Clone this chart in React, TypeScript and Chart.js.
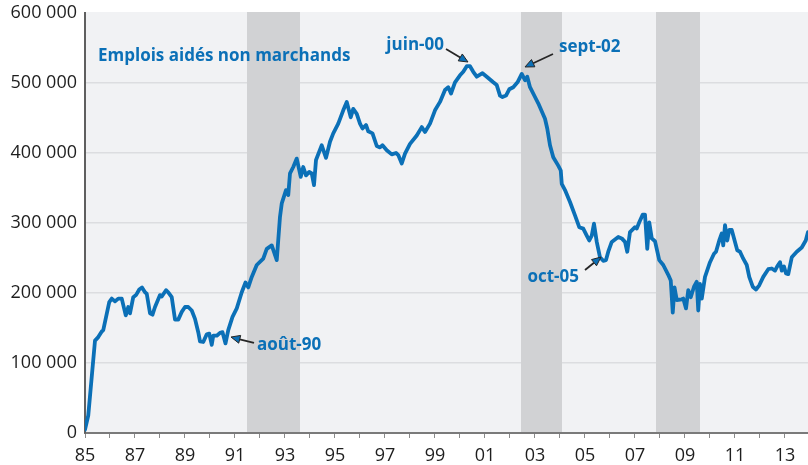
import React, { useEffect, useRef } from "react";
import { Chart, registerables } from "chart.js";

Chart.register(...registerables);

// ---- data ----
const years = [
  1985.0, 1985.13, 1985.4, 1985.53, 1985.67, 1985.73, 1985.97, 1986.07, 1986.2, 1986.33,
  1986.47, 1986.63, 1986.73, 1986.8, 1986.93, 1987.04, 1987.17, 1987.28, 1987.4, 1987.47,
  1987.6, 1987.7, 1987.8, 1988.0, 1988.07, 1988.24, 1988.33, 1988.47, 1988.6, 1988.73,
  1988.87, 1989.0, 1989.13, 1989.27, 1989.4, 1989.53, 1989.6, 1989.73, 1989.87, 1989.97,
  1990.07, 1990.13, 1990.27, 1990.4, 1990.5, 1990.62, 1990.73, 1990.9, 1991.07, 1991.27,
  1991.42, 1991.53, 1991.67, 1991.87, 1992.13, 1992.27, 1992.47, 1992.67, 1992.8, 1992.87,
  1993.04, 1993.13, 1993.2, 1993.33, 1993.47, 1993.63, 1993.73, 1993.84, 1993.97, 1994.07,
  1994.16, 1994.24, 1994.47, 1994.64, 1994.8, 1994.93, 1995.13, 1995.33, 1995.47, 1995.63,
  1995.73, 1995.87, 1996.0, 1996.1, 1996.24, 1996.33, 1996.5, 1996.67, 1996.8, 1996.9,
  1997.07, 1997.27, 1997.44, 1997.53, 1997.67, 1997.8, 1998.0, 1998.27, 1998.47, 1998.6,
  1998.8, 1999.0, 1999.2, 1999.4, 1999.53, 1999.64, 1999.8, 2000.0, 2000.13, 2000.27,
  2000.4, 2000.53, 2000.67, 2000.9, 2001.07, 2001.33, 2001.47, 2001.6, 2001.7, 2001.84,
  2001.97, 2002.13, 2002.3, 2002.47, 2002.6, 2002.69, 2002.8, 2003.0, 2003.13, 2003.4,
  2003.49, 2003.6, 2003.73, 2003.93, 2004.03, 2004.07, 2004.2, 2004.4, 2004.6, 2004.77,
  2004.93, 2005.07, 2005.17, 2005.27, 2005.36, 2005.47, 2005.6, 2005.73, 2005.84, 2005.93,
  2006.07, 2006.33, 2006.47, 2006.6, 2006.69, 2006.8, 2007.0, 2007.07, 2007.17, 2007.31,
  2007.4, 2007.49, 2007.57, 2007.67, 2007.8, 2007.97, 2008.13, 2008.33, 2008.43, 2008.51,
  2008.58, 2008.67, 2008.87, 2008.93, 2009.04, 2009.13, 2009.23, 2009.36, 2009.47, 2009.53,
  2009.6, 2009.67, 2009.8, 2010.0, 2010.16, 2010.24, 2010.37, 2010.47, 2010.53, 2010.6,
  2010.69, 2010.77, 2010.87, 2011.0, 2011.09, 2011.2, 2011.33, 2011.47, 2011.57, 2011.71,
  2011.84, 2011.97, 2012.13, 2012.33, 2012.47, 2012.6, 2012.69, 2012.8, 2012.87, 2012.96,
  2013.04, 2013.13, 2013.27, 2013.47, 2013.67, 2013.83, 2013.92,
];

const emploisAides = [
  5000, 25000, 132000, 137000, 145000, 147000, 187000, 192000, 188000, 192000,
  192000, 168000, 180000, 171000, 194000, 197000, 205000, 208000, 201000, 199000,
  171000, 169000, 180000, 197000, 195000, 204000, 201000, 194000, 162000, 162000,
  173000, 180000, 180000, 175000, 163000, 144000, 131000, 130000, 141000, 142000,
  126000, 139000, 139000, 143000, 144000, 128000, 147000, 166000, 178000, 201000,
  215000, 208000, 223000, 240000, 249000, 263000, 268000, 247000, 309000, 328000,
  347000, 340000, 371000, 380000, 392000, 366000, 380000, 368000, 373000, 371000,
  354000, 390000, 411000, 393000, 416000, 428000, 442000, 461000, 473000, 451000,
  463000, 456000, 442000, 435000, 440000, 431000, 428000, 410000, 408000, 411000,
  404000, 398000, 400000, 397000, 385000, 399000, 413000, 425000, 437000, 430000,
  442000, 461000, 473000, 490000, 494000, 485000, 501000, 511000, 516000, 524000,
  524000, 516000, 509000, 514000, 509000, 501000, 497000, 482000, 480000, 482000,
  491000, 494000, 501000, 513000, 504000, 509000, 494000, 480000, 471000, 449000,
  435000, 411000, 394000, 382000, 375000, 356000, 347000, 330000, 311000, 294000,
  292000, 282000, 275000, 282000, 299000, 273000, 251000, 246000, 247000, 259000,
  273000, 280000, 278000, 273000, 259000, 287000, 294000, 292000, 301000, 312000,
  312000, 263000, 301000, 278000, 274000, 247000, 240000, 226000, 218000, 172000,
  208000, 190000, 191000, 192000, 178000, 204000, 194000, 209000, 216000, 175000,
  213000, 192000, 223000, 244000, 256000, 259000, 275000, 285000, 268000, 297000,
  275000, 290000, 290000, 273000, 261000, 259000, 249000, 240000, 223000, 209000,
  205000, 211000, 223000, 234000, 235000, 232000, 238000, 244000, 232000, 238000,
  228000, 227000, 251000, 259000, 265000, 275000, 287000,
];

const xTickYears = [
  1985, 1986, 1987, 1988, 1989, 1990, 1991, 1992, 1993, 1994, 1995, 1996, 1997, 1998, 1999,
  2000, 2001, 2002, 2003, 2004, 2005, 2006, 2007, 2008, 2009, 2010, 2011, 2012, 2013,
];
const xTickLabels = [
  "85", "", "87", "", "89", "", "91", "", "93", "", "95", "", "97", "", "99",
  "", "01", "", "03", "", "05", "", "07", "", "09", "", "11", "", "13",
];
const yTickValues = [0, 100000, 200000, 300000, 400000, 500000, 600000];
const yTickLabels = ["0", "100 000", "200 000", "300 000", "400 000", "500 000", "600 000"];

const recessionStarts = [1991.48, 2002.44, 2007.84];
const recessionEnds = [1993.6, 2004.08, 2009.6];

const seriesTitle = "Emplois aidés non marchands";
const seriesTitleYear = 1985.52;
const seriesTitleValue = 538600;

const annotationTexts = ["juin-00", "sept-02", "août-90", "oct-05"];
const annotationTipYears = [2000.32, 2002.6, 1990.84, 2005.64];
const annotationTipValues = [530000, 522900, 137100, 251400];
const annotationTailYears = [1999.44, 2003.72, 1991.76, 2005.0];
const annotationTailValues = [548600, 541400, 128600, 232900];
const annotationTextYears = [1999.36, 2003.96, 1991.88, 2004.76];
const annotationTextValues = [554300, 551400, 125700, 222900];
const annotationAligns = ["right", "left", "left", "right"];

// ---- styles ----
const BLUE = "#0b70b7";
const FONT = "'Open Sans', 'Noto Sans', sans-serif";

const decorPlugin = {
  id: "decor",
  beforeDraw(chart: any) {
    const { ctx, chartArea: a } = chart;
    ctx.save();
    ctx.fillStyle = "#f1f2f4";
    ctx.fillRect(a.left, a.top - 1, a.right - a.left, a.bottom - a.top + 1);
    ctx.restore();
  },
  beforeDatasetsDraw(chart: any) {
    const { ctx, chartArea: a } = chart;
    const xs = chart.scales.x;
    ctx.save();
    ctx.fillStyle = "#d1d2d4";
    for (let i = 0; i < recessionStarts.length; i++) {
      const x0 = xs.getPixelForValue(recessionStarts[i]);
      const x1 = xs.getPixelForValue(recessionEnds[i]);
      ctx.fillRect(x0, a.top - 1, x1 - x0, a.bottom - a.top);
    }
    ctx.restore();
  },
  afterDatasetsDraw(chart: any) {
    const { ctx } = chart;
    const xs = chart.scales.x;
    const ys = chart.scales.y;
    ctx.save();
    ctx.font = `bold 17px ${FONT}`;
    ctx.fillStyle = BLUE;
    ctx.textBaseline = "middle";
    ctx.textAlign = "left";
    ctx.fillText(seriesTitle, xs.getPixelForValue(seriesTitleYear), ys.getPixelForValue(seriesTitleValue));

    for (let i = 0; i < annotationTexts.length; i++) {
      const tx = xs.getPixelForValue(annotationTipYears[i]);
      const ty = ys.getPixelForValue(annotationTipValues[i]);
      const sx = xs.getPixelForValue(annotationTailYears[i]);
      const sy = ys.getPixelForValue(annotationTailValues[i]);
      const ang = Math.atan2(ty - sy, tx - sx);
      const headLen = 9;
      const headW = 4;
      const bx = tx - Math.cos(ang) * headLen;
      const by = ty - Math.sin(ang) * headLen;
      ctx.strokeStyle = "#262626";
      ctx.lineWidth = 1.8;
      ctx.beginPath();
      ctx.moveTo(sx, sy);
      ctx.lineTo(bx, by);
      ctx.stroke();
      ctx.beginPath();
      ctx.moveTo(tx, ty);
      ctx.lineTo(bx + Math.sin(ang) * headW, by - Math.cos(ang) * headW);
      ctx.lineTo(bx - Math.sin(ang) * headW, by + Math.cos(ang) * headW);
      ctx.closePath();
      ctx.fillStyle = BLUE;
      ctx.fill();
      ctx.lineWidth = 1;
      ctx.stroke();

      ctx.fillStyle = BLUE;
      ctx.textAlign = annotationAligns[i] as CanvasTextAlign;
      ctx.fillText(
        annotationTexts[i],
        xs.getPixelForValue(annotationTextYears[i]),
        ys.getPixelForValue(annotationTextValues[i])
      );
    }
    ctx.restore();
  },
};

export default function App() {
  const canvasRef = useRef<HTMLCanvasElement | null>(null);

  useEffect(() => {
    const canvas = canvasRef.current;
    if (!canvas) return;
    const points = years.map((yr, i) => ({ x: yr, y: emploisAides[i] }));
    const chart = new Chart(canvas, {
      type: "line",
      data: {
        datasets: [
          {
            data: points,
            borderColor: BLUE,
            borderWidth: 3.8,
            pointRadius: 0,
            tension: 0,
            borderJoinStyle: "round",
            borderCapStyle: "round",
            fill: false,
          },
        ],
      },
      options: {
        animation: false,
        responsive: false,
        devicePixelRatio: 1,
        parsing: false,
        layout: { padding: { top: 13, right: 0, left: 0, bottom: 0 } },
        plugins: {
          legend: { display: false },
          tooltip: { enabled: false },
          title: { display: false },
        },
        scales: {
          x: {
            type: "linear",
            min: 1985,
            max: 2013.92,
            afterBuildTicks: (scale: any) => {
              scale.ticks = xTickYears.map((v) => ({ value: v }));
            },
            afterFit: (scale: any) => {
              scale.height = 32;
              scale.paddingLeft = 0;
              scale.paddingRight = 0;
            },
            grid: {
              drawOnChartArea: false,
              drawTicks: true,
              tickLength: 5,
              color: "#8a8a8a",
              lineWidth: 1,
            },
            border: { display: true, color: "#7a7a7a", width: 2 },
            ticks: {
              autoSkip: false,
              maxRotation: 0,
              minRotation: 0,
              padding: 7,
              color: "#1e1e1e",
              font: { family: FONT, size: 18 },
              callback: (v: any) => {
                const idx = xTickYears.indexOf(Math.round(Number(v)));
                return idx >= 0 ? xTickLabels[idx] : "";
              },
            },
          },
          y: {
            type: "linear",
            min: 0,
            max: 600000,
            afterBuildTicks: (scale: any) => {
              scale.ticks = yTickValues.map((v) => ({ value: v }));
            },
            afterFit: (scale: any) => {
              scale.width = 85;
              scale.paddingTop = 0;
              scale.paddingBottom = 0;
            },
            grid: {
              drawTicks: false,
              color: (c: any) => (c.tick && c.tick.value === 600000 ? "rgba(0,0,0,0)" : "#dcdde0"),
              lineWidth: 1.5,
            },
            border: { display: true, color: "#5f5f5f", width: 2 },
            ticks: {
              padding: 8,
              color: "#1e1e1e",
              font: { family: FONT, size: 18 },
              callback: (v: any) => {
                const idx = yTickValues.indexOf(Number(v));
                return idx >= 0 ? yTickLabels[idx] : "";
              },
            },
          },
        },
      },
      plugins: [decorPlugin],
    });
    return () => chart.destroy();
  }, []);

  return (
    <div
      style={{
        position: "fixed",
        left: 0,
        top: 0,
        width: 808,
        height: 465,
        background: "#ffffff",
      }}
    >
      <canvas ref={canvasRef} width={808} height={465} style={{ display: "block" }} />
    </div>
  );
}
